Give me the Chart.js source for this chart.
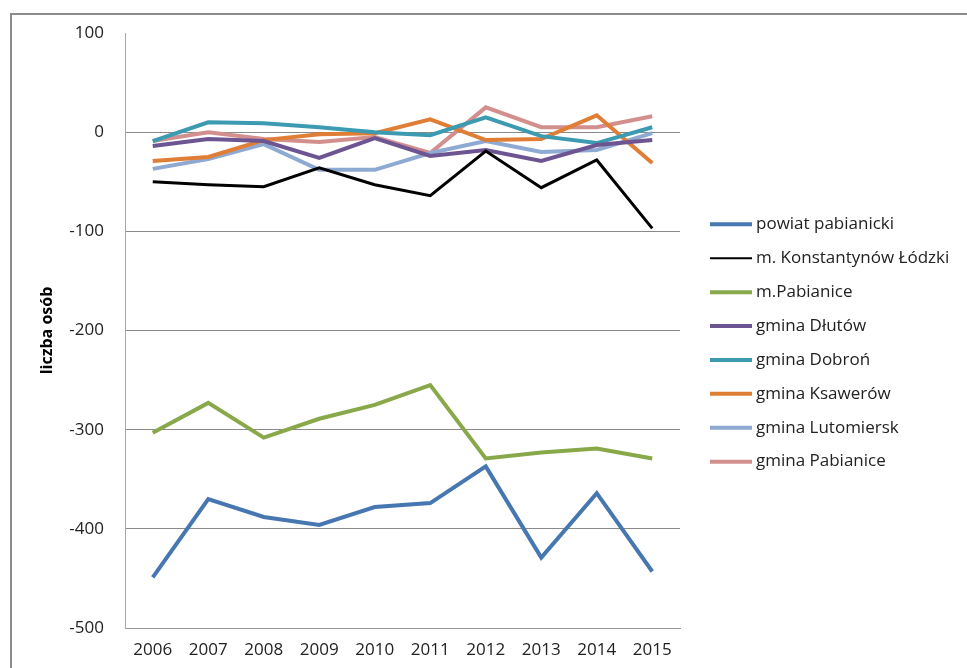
<!DOCTYPE html>
<html>
<head>
<meta charset="utf-8">
<script src="https://cdn.jsdelivr.net/npm/chart.js@4"></script>
<style>
  html, body { margin: 0; padding: 0; background: #fff; }
  #wrap { width: 967px; height: 668px; position: relative; }
</style>
</head>
<body>
<div id="wrap"><canvas id="chart"></canvas></div>
<script>
// Years and series (liczba osób)
const years = ['2006', '2007', '2008', '2009', '2010', '2011', '2012', '2013', '2014', '2015'];

const powiatPabianicki = [-449, -370, -388, -396, -378, -374, -337, -429, -364, -443];
const konstantynow     = [-50, -53, -55, -36, -53, -64, -19, -56, -28, -97];
const mPabianice       = [-303, -273, -308, -289, -275, -255, -329, -323, -319, -329];
const gminaDlutow      = [-14, -7, -9, -26, -6, -24, -18, -29, -13, -8];
const gminaDobron      = [-9, 10, 9, 5, 0, -3, 15, -4, -11, 5];
const gminaKsawerow    = [-29, -25, -8, -2, -1, 13, -8, -7, 17, -31];
const gminaLutomiersk  = [-37, -27, -12, -38, -38, -21, -9, -20, -18, -1];
const gminaPabianice   = [-9, 0, -7, -10, -5, -21, 25, 5, 5, 16];

const yTicksMin = -500;
const yTicksMax = 100;
const yStep = 100;

function series(label, data, color, width) {
    return {
        label: label,
        data: data,
        borderColor: color,
        backgroundColor: color,
        borderWidth: width,
        pointRadius: 0,
        pointHoverRadius: 0,
        tension: 0,
        fill: false
    };
}

// outer frame like the Excel chart area
const framePlugin = {
    id: 'frame',
    beforeDraw(chart) {
        const ctx = chart.ctx;
        ctx.save();
        ctx.strokeStyle = '#8c8c8c';
        ctx.lineWidth = 2;
        ctx.strokeRect(11, 14, chart.width + 20, chart.height + 20);
        ctx.restore();
    }
};

// Excel-style legend to the right of the plot (built-in one gets squeezed)
const sideLegend = {
    id: 'sideLegend',
    afterDraw(chart) {
        const ctx = chart.ctx;
        const x0 = chart.chartArea.right + 30;
        const lineLen = 42;
        const step = 33.9;
        const n = chart.data.datasets.length;
        const midY = 343;
        const y0 = midY - step * (n - 1) / 2;
        ctx.save();
        ctx.font = '17px "Open Sans"';
        ctx.textBaseline = 'middle';
        ctx.fillStyle = '#222';
        chart.data.datasets.forEach((ds, i) => {
            const y = y0 + i * step;
            ctx.beginPath();
            ctx.strokeStyle = ds.borderColor;
            ctx.lineWidth = ds.borderWidth === 3 ? 2 : 4;
            ctx.moveTo(x0, y);
            ctx.lineTo(x0 + lineLen, y);
            ctx.stroke();
            ctx.fillText(ds.label, x0 + lineLen + 4, y);
        });
        ctx.restore();
    }
};

const ctx = document.getElementById('chart').getContext('2d');
new Chart(ctx, {
    type: 'line',
    data: {
        labels: years,
        datasets: [
            series('powiat pabianicki', powiatPabianicki, '#4677b1', 4),
            series('m. Konstantynów Łódzki', konstantynow, '#000000', 3),
            series('m.Pabianice', mPabianice, '#89a84a', 4),
            series('gmina Dłutów', gminaDlutow, '#6d5592', 4),
            series('gmina Dobroń', gminaDobron, '#3c9ab1', 4),
            series('gmina Ksawerów', gminaKsawerow, '#e07e35', 4),
            series('gmina Lutomiersk', gminaLutomiersk, '#8faad2', 4),
            series('gmina Pabianice', gminaPabianice, '#d38f8e', 4)
        ]
    },
    options: {
        responsive: true,
        maintainAspectRatio: false,
        animation: false,
        layout: {
            padding: { left: 0, top: 33, right: 287, bottom: 0 }
        },
        scales: {
            x: {
                type: 'category',
                offset: true,
                grid: { display: false, drawTicks: false },
                border: { display: true, color: '#9a9a9a', width: 1 },
                ticks: {
                    color: '#222',
                    padding: 12,
                    maxRotation: 0,
                    autoSkip: false,
                    font: { family: 'Open Sans', size: 17 }
                },
                afterFit(scale) { scale.height = 40; }
            },
            y: {
                min: yTicksMin,
                max: yTicksMax,
                ticks: {
                    stepSize: yStep,
                    color: '#222',
                    padding: 21,
                    font: { family: 'Open Sans', size: 17 }
                },
                grid: {
                    drawTicks: false,
                    color: (c) => (c.tick && c.tick.value === yTicksMax) ? 'rgba(0,0,0,0)' : '#8a8a8a',
                    lineWidth: 1
                },
                border: { display: true, color: '#a8a8a8', width: 1 },
                title: {
                    display: true,
                    text: 'liczba osób',
                    color: '#000',
                    padding: { top: 38, bottom: 0 },
                    font: { family: 'Open Sans', size: 16, weight: 'bold' }
                },
                afterFit(scale) { scale.width = 125; }
            }
        },
        plugins: {
            legend: { display: false },
            tooltip: { enabled: false }
        }
    },
    plugins: [framePlugin, sideLegend]
});
</script>
</body>
</html>
